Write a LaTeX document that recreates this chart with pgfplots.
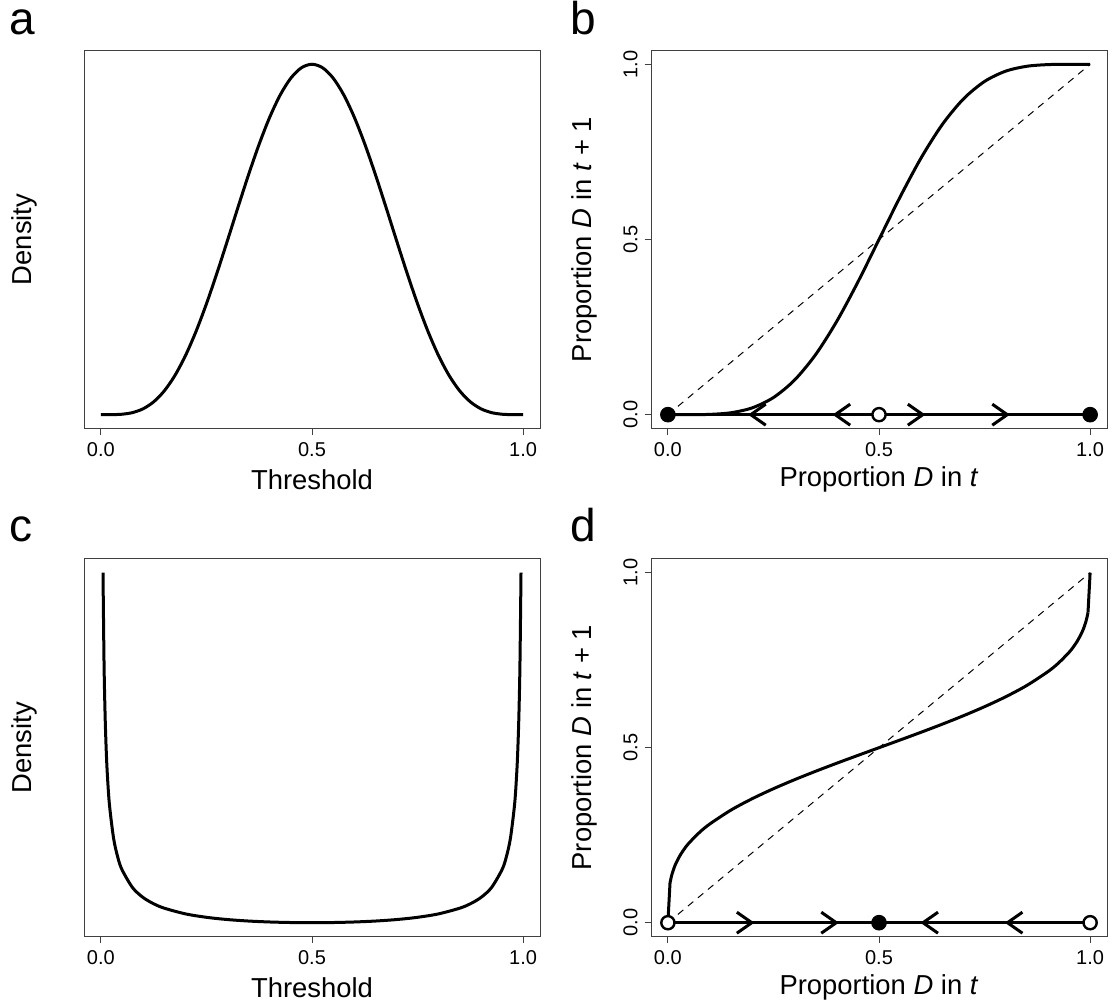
\documentclass[border=0pt]{standalone}
\usepackage{fontspec}
\setmainfont{Liberation Sans}
\usepackage{pgfplots}
\pgfplotsset{compat=1.18}
\usetikzlibrary{arrows.meta}

\tikzset{letter/.style={anchor=base west, inner sep=0pt, font=\fontsize{23}{26}\selectfont}}
\pgfplotsset{
  panel/.style={
    scale only axis, width=228pt, height=189.2pt, anchor=south west,
    xmin=-0.04, xmax=1.04,
    axis line style={line width=0.5pt, draw=black!75},
    every tick/.style={line width=0.5pt, draw=black!75},
    tick align=outside, major tick length=3.2pt,
    xtick={0,0.5,1}, xticklabels={0.0,0.5,1.0},
    xtick pos=bottom, ytick pos=left,
    ticklabel style={font=\fontsize{10}{12}\selectfont},
    label style={font=\fontsize{13.7}{16}\selectfont},
    /pgf/number format/assume math mode=true,
    clip=false,
  },
  dens/.style={panel, ytick=\empty,
    ylabel={Density},
    ylabel style={at={(axis description cs:-0.13,0.5)}, anchor=center},
    xlabel={Threshold},
    xlabel style={at={(axis description cs:0.5,-0.135)}, anchor=center},
  },
  prop/.style={panel, ymin=-0.04, ymax=1.04,
    ytick={0,0.5,1}, yticklabels={0.0,0.5,1.0},
    yticklabel style={rotate=90, anchor=south},
    ylabel={Proportion \textit{D} in \textit{t} + 1},
    ylabel style={at={(axis description cs:-0.145,0.5)}, anchor=center},
    xlabel={Proportion \textit{D} in \textit{t}},
    xlabel style={at={(axis description cs:0.5,-0.135)}, anchor=center},
  },
  curve/.style={line width=1.5pt, black},
  arr/.style={line width=1.5pt, black, -{Straight Barb[length=7.5pt, width=10.5pt]}},
  diag/.style={line width=0.5pt, black, dash pattern=on 3.5pt off 3pt},
  fullpt/.style={only marks, mark=*, mark size=3.7pt, mark options={fill=black, draw=black}},
  openpt/.style={only marks, mark=*, mark size=3.3pt, mark options={fill=white, draw=black, line width=1.2pt}},
}

\begin{document}
\begin{tikzpicture}
\useasboundingbox (0,0) rectangle (556pt,502.5pt);

\node[letter] at (4.5pt,485pt) {a};
\node[letter] at (285pt,485pt) {b};
\node[letter] at (4.5pt,231.5pt) {c};
\node[letter] at (285pt,231.5pt) {d};

% ---------------- panel a ----------------
\begin{axis}[dens, at={(42pt,288.15pt)}, ymin=-0.0984, ymax=2.559]
\addplot[curve, smooth] coordinates {
(0,0) (0.025,0.000222) (0.05,0.003207) (0.075,0.01459) (0.1,0.04133)
(0.125,0.09016) (0.15,0.16648) (0.175,0.27372) (0.2,0.41288) (0.225,0.58248)
(0.25,0.77866) (0.275,0.99546) (0.3,1.22523) (0.325,1.45910) (0.35,1.68758)
(0.375,1.90100) (0.4,2.09019) (0.425,2.24682) (0.45,2.36395) (0.475,2.43640)
(0.5,2.46094)
(0.525,2.43640) (0.55,2.36395) (0.575,2.24682) (0.6,2.09019) (0.625,1.90100)
(0.65,1.68758) (0.675,1.45910) (0.7,1.22523) (0.725,0.99546) (0.75,0.77866)
(0.775,0.58248) (0.8,0.41288) (0.825,0.27372) (0.85,0.16648) (0.875,0.09016)
(0.9,0.04133) (0.925,0.01459) (0.95,0.003207) (0.975,0.000222) (1,0)
};
\end{axis}

% ---------------- panel b ----------------
\begin{axis}[prop, at={(325.5pt,288.15pt)}]
\addplot[curve, smooth] coordinates {
(0,0) (0.05,0.0000332) (0.1,0.00089) (0.15,0.00563) (0.2,0.01958)
(0.25,0.04893) (0.3,0.09881) (0.35,0.17172) (0.4,0.26657) (0.45,0.37858)
(0.5,0.5) (0.55,0.62142) (0.6,0.73343) (0.65,0.82828) (0.7,0.90119)
(0.75,0.95107) (0.8,0.98042) (0.85,0.99437) (0.9,0.99911) (0.95,0.99997) (1,1)
};
\addplot[diag] coordinates {(0,0) (1,1)};
\addplot[curve] coordinates {(0,0) (1,0)};
\addplot[arr] coordinates {(0.25,0) (0.19,0)};
\addplot[arr] coordinates {(0.45,0) (0.39,0)};
\addplot[arr] coordinates {(0.55,0) (0.61,0)};
\addplot[arr] coordinates {(0.75,0) (0.81,0)};
\addplot[fullpt] coordinates {(0,0) (1,0)};
\addplot[openpt] coordinates {(0.5,0)};
\end{axis}

% ---------------- panel c ----------------
\begin{axis}[dens, at={(42pt,34.15pt)}, height=189pt, ymin=0.184, ymax=7.068]
\addplot[curve, smooth] coordinates {
(0.005,6.813) (0.0075,5.140) (0.01,4.209) (0.0125,3.607) (0.015,3.181) (0.02,2.609)
(0.03,1.979) (0.04,1.630) (0.05,1.4045) (0.075,1.0772) (0.1,0.8978)
(0.125,0.7833) (0.15,0.7036) (0.2,0.6002) (0.25,0.5371) (0.3,0.4961)
(0.35,0.4691) (0.4,0.4519) (0.45,0.4422) (0.5,0.4391)
(0.55,0.4422) (0.6,0.4519) (0.65,0.4691) (0.7,0.4961) (0.75,0.5371)
(0.8,0.6002) (0.85,0.7036) (0.875,0.7833) (0.9,0.8978) (0.925,1.0772)
(0.95,1.4045) (0.96,1.630) (0.97,1.979) (0.98,2.609) (0.985,3.181)
(0.9875,3.607) (0.99,4.209) (0.9925,5.140) (0.995,6.813)
};
\end{axis}

% ---------------- panel d ----------------
\begin{axis}[prop, at={(325.5pt,34.15pt)}, height=189pt]
\addplot[curve] coordinates {(0,0) (0.005,0.1133)};
\addplot[curve, smooth] coordinates {
(0.005,0.1133) (0.0075,0.1280) (0.01,0.1396) (0.015,0.1577) (0.02,0.1721)
(0.03,0.1947) (0.04,0.2126) (0.05,0.2277) (0.075,0.2582) (0.1,0.2827)
(0.15,0.3222) (0.2,0.3545) (0.25,0.3828) (0.3,0.4086) (0.35,0.4327)
(0.4,0.4557) (0.45,0.4780) (0.5,0.5) (0.55,0.5220) (0.6,0.5443)
(0.65,0.5673) (0.7,0.5914) (0.75,0.6172) (0.8,0.6455) (0.85,0.6778)
(0.9,0.7173) (0.925,0.7418) (0.95,0.7723) (0.96,0.7874) (0.97,0.8053)
(0.98,0.8279) (0.985,0.8423) (0.99,0.8604) (0.9925,0.8720) (0.995,0.8867)
};
\addplot[curve] coordinates {(0.995,0.8867) (1,1)};
\addplot[diag] coordinates {(0,0) (1,1)};
\addplot[curve] coordinates {(0,0) (1,0)};
\addplot[arr] coordinates {(0.145,0) (0.205,0)};
\addplot[arr] coordinates {(0.345,0) (0.405,0)};
\addplot[arr] coordinates {(0.658,0) (0.598,0)};
\addplot[arr] coordinates {(0.858,0) (0.798,0)};
\addplot[fullpt] coordinates {(0.5,0)};
\addplot[openpt] coordinates {(0,0) (1,0)};
\end{axis}
\end{tikzpicture}
\end{document}
